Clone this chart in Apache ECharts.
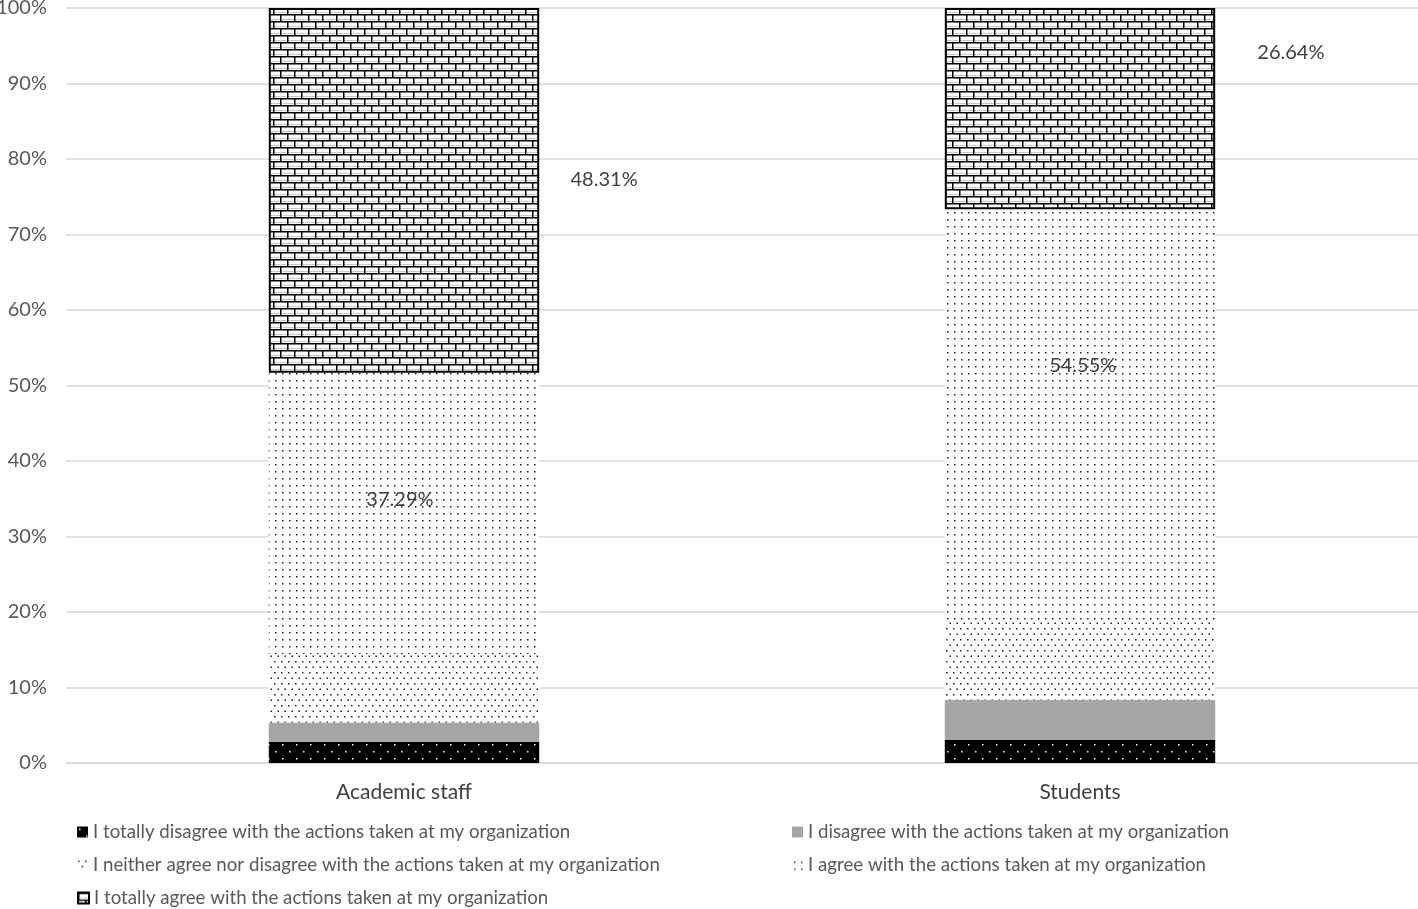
<!DOCTYPE html>
<html>
<head>
<meta charset="utf-8">
<script src="https://cdn.jsdelivr.net/npm/echarts@6/dist/echarts.min.js"></script>
<style>
html, body { margin: 0; padding: 0; background: #fff; }
#chart { width: 1418px; height: 909px; }
</style>
</head>
<body>
<div id="chart"></div>
<script>
// data
var categories = ['Academic staff', 'Students'];
var seriesNames = [
    'I totally disagree with the actions taken at my organization',
    'I disagree with the actions taken at my organization',
    'I neither agree nor disagree with the actions taken at my organization',
    'I agree with the actions taken at my organization',
    'I totally agree with the actions taken at my organization'
];
var totallyDisagree = [2.82, 3.03];
var disagree = [2.54, 5.30];
var neither = [9.04, 10.48];
var agree = [37.29, 54.55];
var totallyAgree = [48.31, 26.64];
var yTicks = [0, 10, 20, 30, 40, 50, 60, 70, 80, 90, 100];

// pattern tiles
function tile(w, h, draw) {
    var c = document.createElement('canvas');
    c.width = w; c.height = h;
    draw(c.getContext('2d'));
    return c;
}
function dots(ctx, color, pts, r) {
    ctx.fillStyle = color;
    pts.forEach(function (p) {
        ctx.fillRect(p[0], p[1], r, r);
    });
}

var blackDots = tile(14, 14, function (ctx) {
    ctx.fillStyle = '#000';
    ctx.fillRect(0, 0, 14, 14);
    dots(ctx, '#fff', [[2, 2], [9, 9]], 1.5);
});
var denseDots = tile(7, 11, function (ctx) {
    ctx.fillStyle = '#fff';
    ctx.fillRect(0, 0, 7, 11);
    dots(ctx, '#222', [[1, 1], [4.5, 6.5]], 1.5);
});
var sparseDots = tile(7, 7, function (ctx) {
    ctx.fillStyle = '#fff';
    ctx.fillRect(0, 0, 7, 7);
    dots(ctx, '#222', [[2, 2]], 1.5);
});
var bricks = tile(14, 14, function (ctx) {
    ctx.fillStyle = '#fff';
    ctx.fillRect(0, 0, 14, 14);
    ctx.fillStyle = '#c8c8c8';
    ctx.fillRect(2, 5, 12, 1);
    ctx.fillRect(0, 12, 14, 1);
    ctx.fillStyle = '#000';
    ctx.fillRect(0, 0, 14, 1.5);
    ctx.fillRect(0, 7, 14, 1.5);
    ctx.fillRect(0, 0, 1.5, 7);
    ctx.fillRect(7, 7, 1.5, 7);
});

var chart = echarts.init(document.getElementById('chart'));

var fontFamily = 'Lato, "Open Sans", sans-serif';

function legendAt(name, left, top) {
    return {
        data: [name],
        left: left,
        top: top,
        orient: 'horizontal',
        icon: 'rect',
        itemWidth: 11,
        itemHeight: 11,
        itemGap: 5,
        selectedMode: false,
        textStyle: { fontFamily: fontFamily, fontSize: 18.7, lineHeight: 20, color: '#595959' }
    };
}

var labelStyle = {
    show: true,
    formatter: function (p) { return p.value.toFixed(2) + '%'; },
    fontFamily: fontFamily,
    fontSize: 20,
    color: '#404040',
    align: 'center',
    verticalAlign: 'middle'
};

option = {
    animation: false,
    backgroundColor: '#fff',
    grid: {
        left: 66,
        right: 0,
        top: 8,
        bottom: 146,
        outerBoundsMode: 'none'
    },
    legend: [
        legendAt(seriesNames[0], 72, 817),
        legendAt(seriesNames[1], 787, 817),
        legendAt(seriesNames[2], 72, 850),
        legendAt(seriesNames[3], 787, 850),
        legendAt(seriesNames[4], 72, 883)
    ],
    xAxis: {
        type: 'category',
        data: categories,
        axisTick: { show: false },
        axisLine: { lineStyle: { color: '#d9d9d9', width: 1.5 } },
        axisLabel: {
            fontFamily: fontFamily,
            fontSize: 21,
            color: '#404040',
            margin: 19
        }
    },
    yAxis: {
        type: 'value',
        min: yTicks[0],
        max: yTicks[yTicks.length - 1],
        interval: 10,
        axisLine: { show: false },
        axisTick: { show: false },
        splitLine: { lineStyle: { color: '#d9d9d9', width: 1.5 } },
        axisLabel: {
            formatter: '{value}%',
            fontFamily: fontFamily,
            fontSize: 20,
            color: '#595959',
            margin: 19
        }
    },
    series: [
        {
            name: seriesNames[0],
            type: 'bar',
            stack: 'total',
            barWidth: '40%',
            itemStyle: { color: { image: blackDots, repeat: 'repeat' } },
            data: totallyDisagree
        },
        {
            name: seriesNames[1],
            type: 'bar',
            stack: 'total',
            itemStyle: { color: '#a5a5a5' },
            data: disagree
        },
        {
            name: seriesNames[2],
            type: 'bar',
            stack: 'total',
            itemStyle: { color: { image: denseDots, repeat: 'repeat' } },
            data: neither
        },
        {
            name: seriesNames[3],
            type: 'bar',
            stack: 'total',
            itemStyle: { color: { image: sparseDots, repeat: 'repeat' } },
            data: [
                { value: agree[0], label: Object.assign({}, labelStyle, { position: ['48.5%', '45%'] }) },
                { value: agree[1], label: Object.assign({}, labelStyle, { position: ['51%', '38%'] }) }
            ]
        },
        {
            name: seriesNames[4],
            type: 'bar',
            stack: 'total',
            itemStyle: {
                color: { image: bricks, repeat: 'repeat' },
                borderColor: '#000',
                borderWidth: 2
            },
            data: [
                { value: totallyAgree[0], label: Object.assign({}, labelStyle, { position: ['124%', '47%'] }) },
                { value: totallyAgree[1], label: Object.assign({}, labelStyle, { position: ['128%', '22%'] }) }
            ]
        }
    ]
};

chart.setOption(option);
</script>
</body>
</html>
